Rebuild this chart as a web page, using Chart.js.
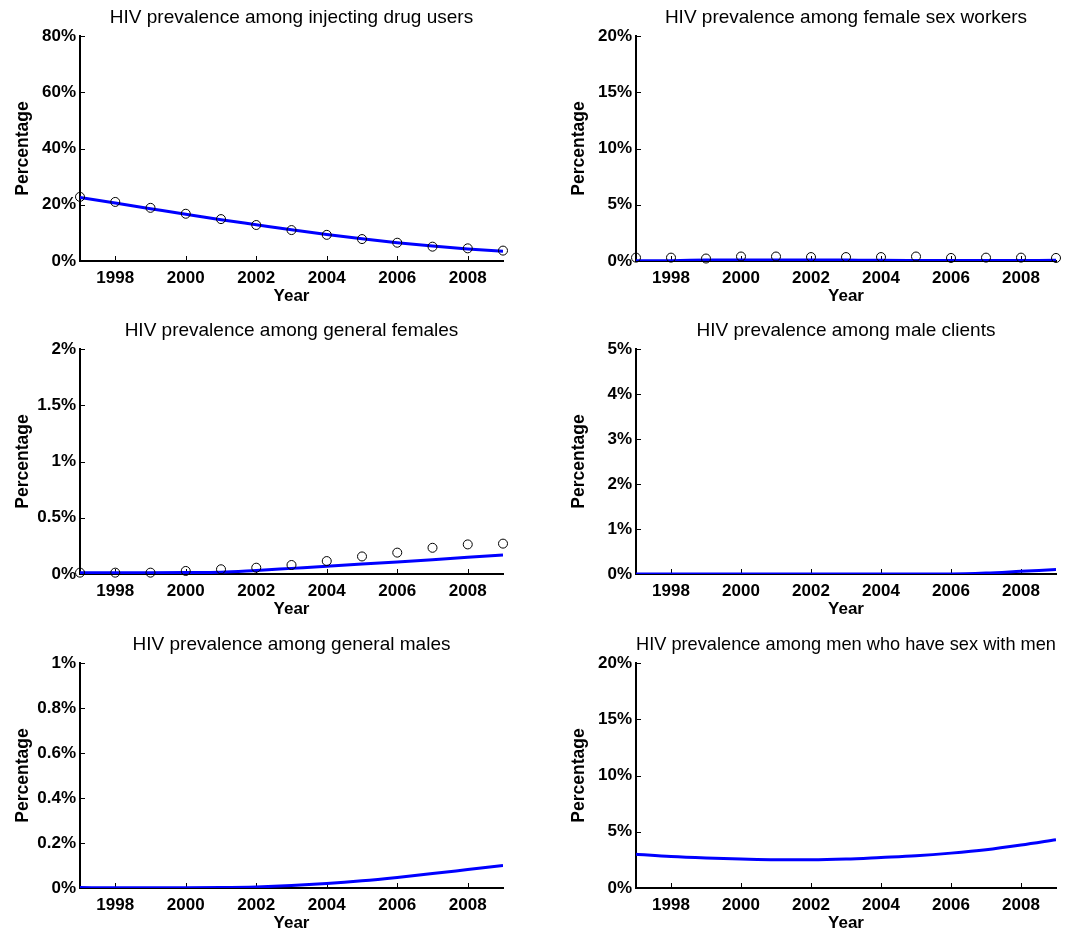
<!DOCTYPE html>
<html>
<head>
<meta charset="utf-8">
<script src="https://cdn.jsdelivr.net/npm/chart.js@4.4.0/dist/chart.umd.min.js"></script>
<style>
  body { margin: 0; background: #fff; width: 1065px; height: 932px; position: relative; overflow: hidden; }
  .panel { position: absolute; }
</style>
</head>
<body>
<div class="panel" style="left:0px;top:0px;width:509px;height:307px"><canvas id="c1"></canvas></div>
<div class="panel" style="left:556px;top:0px;width:506px;height:307px"><canvas id="c2"></canvas></div>
<div class="panel" style="left:0px;top:313px;width:509px;height:307px"><canvas id="c3"></canvas></div>
<div class="panel" style="left:556px;top:313px;width:506px;height:307px"><canvas id="c4"></canvas></div>
<div class="panel" style="left:0px;top:627px;width:509px;height:307px"><canvas id="c5"></canvas></div>
<div class="panel" style="left:556px;top:627px;width:506px;height:307px"><canvas id="c6"></canvas></div>
<script>
// ===== DATA =====
var years = [1997, 1998, 1999, 2000, 2001, 2002, 2003, 2004, 2005, 2006, 2007, 2008, 2009];
var xTicks = [1998, 2000, 2002, 2004, 2006, 2008];

// injecting drug users
var iduObserved = [22.8, 21.0, 18.9, 16.8, 14.9, 12.8, 11.0, 9.3, 7.8, 6.5, 5.1, 4.5, 3.7];
var iduModel    = [22.6, 20.6, 18.6, 16.6, 14.7, 12.9, 11.1, 9.4, 7.9, 6.5, 5.3, 4.3, 3.5];
var iduTicks    = [0, 20, 40, 60, 80];

// female sex workers
var fswObserved = [0.3, 0.3, 0.22, 0.4, 0.4, 0.35, 0.35, 0.35, 0.4, 0.27, 0.3, 0.3, 0.27];
var fswModel    = [0.02, 0.03, 0.08, 0.1, 0.1, 0.1, 0.08, 0.06, 0.05, 0.04, 0.04, 0.05, 0.06];
var fswTicks    = [0, 5, 10, 15, 20];

// general females
var gfObserved = [0.012, 0.012, 0.012, 0.027, 0.042, 0.056, 0.08, 0.115, 0.156, 0.19, 0.233, 0.263, 0.27];
var gfModel    = [0.012, 0.012, 0.012, 0.013, 0.016, 0.032, 0.05, 0.068, 0.088, 0.107, 0.127, 0.148, 0.17];
var gfTicks    = [0, 0.5, 1, 1.5, 2];

// male clients
var mcModel = [0, 0, 0, 0, 0, 0, 0, 0, 0, 0, 0.02, 0.06, 0.1];
var mcTicks = [0, 1, 2, 3, 4, 5];

// general males
var gmModel = [0.002, 0.001, 0.001, 0.001, 0.002, 0.005, 0.011, 0.02, 0.032, 0.047, 0.064, 0.082, 0.1];
var gmTicks = [0, 0.2, 0.4, 0.6, 0.8, 1];

// men who have sex with men
var msmModel = [3.0, 2.8, 2.67, 2.58, 2.52, 2.52, 2.58, 2.72, 2.87, 3.1, 3.4, 3.82, 4.3];
var msmTicks = [0, 5, 10, 15, 20];

// ===== HELPERS =====
var FONT = '"Liberation Sans", Arial, Helvetica, sans-serif';

function toPoints(values) {
  return years.map(function(y, i) { return { x: y, y: values[i] }; });
}

// matlab style inward tick marks
var inwardTicks = {
  id: 'inwardTicks',
  beforeDatasetsDraw: function(chart) {
    var ctx = chart.ctx;
    var xs = chart.scales.x, ys = chart.scales.y;
    var area = chart.chartArea;
    ctx.save();
    ctx.strokeStyle = '#000';
    ctx.lineWidth = 1;
    ctx.beginPath();
    xs.ticks.forEach(function(t) {
      var px = Math.round(xs.getPixelForValue(t.value)) + 0.5;
      ctx.moveTo(px, area.bottom);
      ctx.lineTo(px, area.bottom - 5);
    });
    ys.ticks.forEach(function(t) {
      var py = Math.round(ys.getPixelForValue(t.value)) + 0.5;
      ctx.moveTo(area.left, py);
      ctx.lineTo(area.left + 5, py);
    });
    ctx.stroke();
    ctx.restore();
  }
};

function makePanel(canvasId, title, yTicks, model, observed) {
  var datasets = [];
  if (observed) {
    datasets.push({
      type: 'scatter',
      data: toPoints(observed),
      showLine: false,
      pointStyle: 'circle',
      pointRadius: 4.5,
      pointBorderWidth: 1,
      pointBorderColor: '#000',
      pointBackgroundColor: 'rgba(0,0,0,0)',
      clip: false,
      order: 0
    });
  }
  datasets.push({
    type: 'line',
    data: toPoints(model),
    borderColor: '#0000ff',
    borderWidth: 3,
    pointRadius: 0,
    fill: false,
    cubicInterpolationMode: 'monotone',
    order: 1
  });

  return new Chart(document.getElementById(canvasId), {
    type: 'line',
    data: { datasets: datasets },
    options: {
      responsive: true,
      maintainAspectRatio: false,
      animation: false,
      layout: { padding: { left: 0, top: 0, bottom: 0, right: 6 }, autoPadding: false },
      plugins: {
        legend: { display: false },
        tooltip: { enabled: false },
        title: {
          display: true,
          text: title,
          fullSize: false,
          color: '#000',
          font: { family: FONT, size: 19, weight: 'normal' },
          padding: { top: 6.5, bottom: 6.7 }
        }
      },
      scales: {
        x: {
          type: 'linear',
          min: 1997,
          max: 2009,
          afterBuildTicks: function(scale) {
            scale.ticks = xTicks.map(function(v) { return { value: v }; });
          },
          afterFit: function(scale) { scale.height = 46; },
          grid: { display: true, drawOnChartArea: false, drawTicks: false },
          border: { display: true, color: '#000', width: 2 },
          ticks: {
            color: '#000',
            padding: 7,
            maxRotation: 0,
            font: { family: FONT, size: 17, weight: 'bold' },
            callback: function(v) { return String(v); }
          },
          title: {
            display: true,
            text: 'Year',
            color: '#000',
            padding: { top: 0, bottom: 0 },
            font: { family: FONT, size: 17, weight: 'bold' }
          }
        },
        y: {
          type: 'linear',
          min: yTicks[0],
          max: yTicks[yTicks.length - 1],
          afterBuildTicks: function(scale) {
            scale.ticks = yTicks.map(function(v) { return { value: v }; });
          },
          afterFit: function(scale) { scale.width = 80; },
          grid: { display: true, drawOnChartArea: false, drawTicks: false },
          border: { display: true, color: '#000', width: 2 },
          ticks: {
            color: '#000',
            padding: 4,
            font: { family: FONT, size: 17, weight: 'bold' },
            callback: function(v) { return v + '%'; }
          },
          title: {
            display: true,
            text: 'Percentage',
            color: '#000',
            padding: { top: 13, bottom: 4 },
            font: { family: FONT, size: 17.5, weight: 'bold' }
          }
        }
      }
    },
    plugins: [inwardTicks]
  });
}

// ===== INIT =====
makePanel('c1', 'HIV prevalence among injecting drug users', iduTicks, iduModel, iduObserved);
makePanel('c2', 'HIV prevalence among female sex workers', fswTicks, fswModel, fswObserved);
makePanel('c3', 'HIV prevalence among general females', gfTicks, gfModel, gfObserved);
makePanel('c4', 'HIV prevalence among male clients', mcTicks, mcModel, null);
makePanel('c5', 'HIV prevalence among general males', gmTicks, gmModel, null);
makePanel('c6', 'HIV prevalence among men who have sex with men', msmTicks, msmModel, null);
</script>
</body>
</html>
